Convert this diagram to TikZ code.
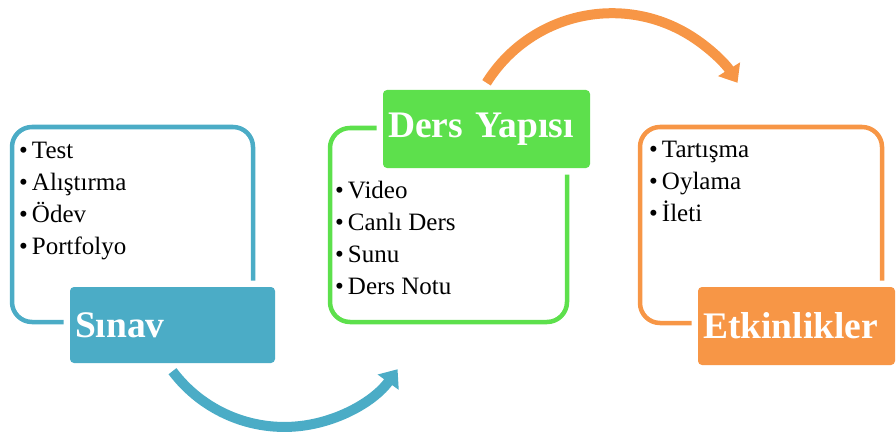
\documentclass[tikz,border=0pt]{standalone}
\usepackage{fontspec}
\setmainfont{Liberation Serif}
\usetikzlibrary{positioning,arrows.meta}
\definecolor{sinavblue}{HTML}{4BACC6}
\definecolor{dersgreen}{HTML}{5DE04C}
\definecolor{etkorange}{HTML}{F79646}
\tikzset{
    listframe/.style = {
        draw,
        shape=rectangle,
        rounded corners=20pt,
        line width=4.5pt
    },
    titlebox/.style = {
        shape=rectangle,
        rounded corners=4pt,
        text=white,
        font=\fontsize{37.5}{40}\selectfont\bfseries,
        align=left,
        inner xsep=5pt,
        preaction={draw=white, line width=13pt}
    },
    items/.style = {
        anchor=north west,
        inner sep=0pt,
        align=left,
        font=\fontsize{25}{32}\selectfont
    },
    cyclearrow/.style = {
        line width=10pt,
        -{Triangle[width=25pt,length=16pt]}
    },
}

\begin{document}
\begin{tikzpicture}[x=1pt,y=-1pt]
    \useasboundingbox (0,0) rectangle (896,441);

    % outlined frames
    \node[listframe, draw=sinavblue, minimum width=241pt, minimum height=195pt] (sinavframe) at (132.5,224.5) {};
    \node[listframe, draw=dersgreen, minimum width=237pt, minimum height=194pt] (dersframe) at (448.5,225) {};
    \node[listframe, draw=etkorange, minimum width=242pt, minimum height=196pt] (etkframe) at (761,225) {};

    % bullet lists
    \node[items] (sinavlist) at (19,141.5) {•\hspace{4pt}Test\\•\hspace{4pt}Alıştırma\\•\hspace{4pt}Ödev\\•\hspace{4pt}Portfolyo};
    \node[items] (derslist) at (335,181) {•\hspace{4pt}Video\\•\hspace{4pt}Canlı Ders\\•\hspace{4pt}Sunu\\•\hspace{4pt}Ders Notu};
    \node[items] (etklist) at (649,140.5) {•\hspace{4pt}Tartışma\\•\hspace{4pt}Oylama\\•\hspace{4pt}İleti};

    % title boxes
    \node[titlebox, fill=sinavblue, text width=195pt, minimum height=76pt] (sinav) at (172.5,325) {Sınav};
    \node[titlebox, fill=dersgreen, text width=197pt, minimum height=78pt] (ders) at (486.5,129) {Ders Yapısı};
    \node[titlebox, fill=etkorange, text width=187pt, minimum height=78pt] (etk) at (796.5,326) {Etkinlikler};

    % curved arrows
    \path[draw, cyclearrow, sinavblue] ([yshift=-8pt]sinav.south) arc[start angle=217, end angle=324, radius=140pt];
    \path[draw, cyclearrow, etkorange] ([yshift=7pt]ders.north) arc[start angle=148, end angle=32, radius=148pt];
\end{tikzpicture}
\end{document}
